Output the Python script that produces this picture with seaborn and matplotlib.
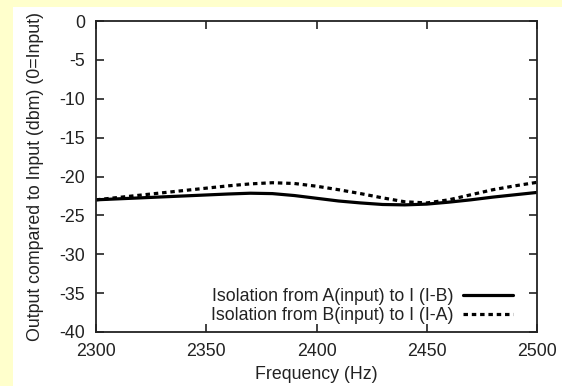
import numpy as np
import pandas as pd
import matplotlib
matplotlib.use("Agg")
import matplotlib.pyplot as plt
import seaborn as sns
from matplotlib.patches import Rectangle

# ---- data ----
freq = [2300, 2320, 2340, 2360, 2370, 2380, 2390, 2400, 2410, 2420,
        2430, 2440, 2450, 2460, 2470, 2480, 2490, 2500]
iso_a_to_i = [-23.0, -22.75, -22.5, -22.25, -22.15, -22.2, -22.45, -22.8, -23.15, -23.4,
              -23.6, -23.65, -23.55, -23.3, -23.0, -22.65, -22.35, -22.05]
iso_b_to_i = [-23.0, -22.4, -21.8, -21.2, -20.95, -20.8, -20.9, -21.25, -21.7, -22.2,
              -22.75, -23.25, -23.4, -23.0, -22.35, -21.7, -21.2, -20.75]
label_a = "Isolation from A(input) to I (I-B)"
label_b = "Isolation from B(input) to I (I-A)"
x_ticks = [2300, 2350, 2400, 2450, 2500]
y_ticks = [0, -5, -10, -15, -20, -25, -30, -35, -40]
x_label = "Frequency (Hz)"
y_label = "Output compared to Input (dbm) (0=Input)"

sns.set_style("ticks")
plt.rcParams['font.family'] = ['Liberation Sans', 'DejaVu Sans']

W, H = 562, 386
FS = 12.8
TXT = "#222222"
fig = plt.figure(figsize=(W / 100, H / 100), dpi=100, facecolor="white")
# pale yellow page border (left and top)
fig.patches.append(Rectangle((0, 0), 13 / W, 1, transform=fig.transFigure,
                             facecolor="#FFFFCC", edgecolor="none", zorder=-10))
fig.patches.append(Rectangle((0, 1 - 7 / H), 1, 7 / H, transform=fig.transFigure,
                             facecolor="#FFFFCC", edgecolor="none", zorder=-10))

left, right, top, bottom = 96, 537, 21, 332
ax = fig.add_axes([left / W, 1 - bottom / H, (right - left) / W, (bottom - top) / H])
ax.set_facecolor("white")

sns.lineplot(x=freq, y=iso_a_to_i, ax=ax, color="black", linewidth=2.3, label=label_a)
sns.lineplot(x=freq, y=iso_b_to_i, ax=ax, color="black", linewidth=2.3, label=label_b)
ax.lines[1].set_dashes((1.4, 1.2))

ax.set_xlim(2300, 2500)
ax.set_ylim(-40, 0)
ax.set_xticks(x_ticks)
ax.set_yticks(y_ticks)
ax.set_xticklabels([str(t) for t in x_ticks])
ax.set_yticklabels([str(t) for t in y_ticks])

ax.tick_params(direction="in", length=6, width=1.2, colors=TXT,
               labelsize=FS, top=True, right=True)
ax.tick_params(axis="x", labeltop=False, pad=8)
ax.tick_params(axis="y", labelright=False, pad=8)
for s in ax.spines.values():
    s.set_visible(True)
    s.set_linewidth(1.3)
    s.set_color(TXT)

ax.set_xlabel(x_label, fontsize=FS, color=TXT, labelpad=4)
ax.set_ylabel(y_label, fontsize=FS, color=TXT, labelpad=11)

leg = ax.legend(loc="lower right", bbox_to_anchor=((513 - left) / (right - left), 0.025),
                frameon=False, markerfirst=False, fontsize=FS, handlelength=2.8,
                handletextpad=0.55, labelspacing=0.1, borderpad=0, borderaxespad=0)
for t in leg.get_texts():
    t.set_color(TXT)

fig.savefig("out.png", dpi=100, facecolor=fig.get_facecolor())
